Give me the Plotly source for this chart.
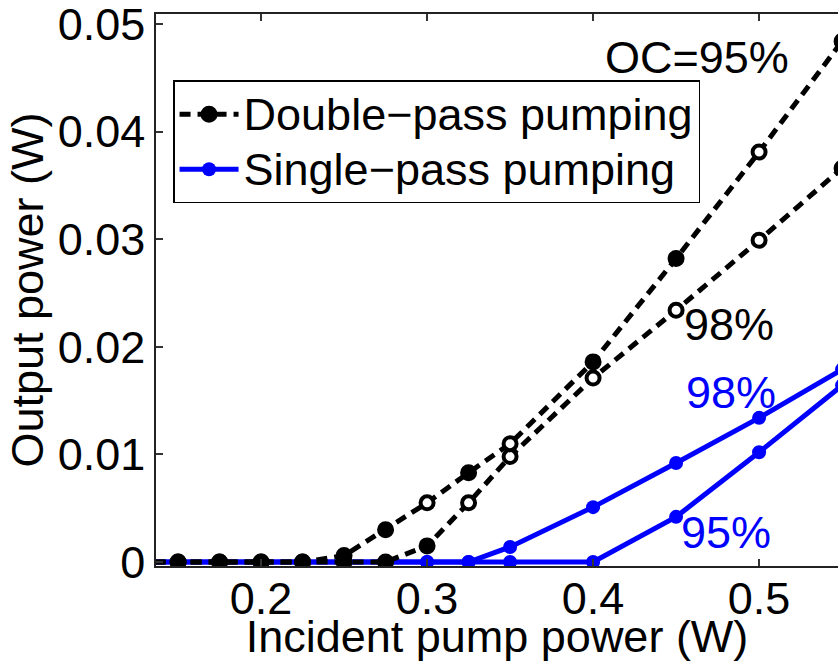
import plotly.graph_objects as go

# Incident pump power (W)
pump_x = [0.125, 0.15, 0.175, 0.2, 0.225, 0.25, 0.275, 0.3, 0.325, 0.35, 0.4, 0.45, 0.5, 0.55]

# Output power (W), double-pass pumping
double_oc95 = [0, 0, 0, 0, 0, 0.0006, 0.0030, 0.0055, 0.0083, 0.0110, 0.0186, 0.0282, 0.0381, 0.0484]
double_oc98 = [0, 0, 0, 0, 0, 0, 0, 0.0015, 0.0055, 0.0098, 0.0171, 0.0234, 0.0299, 0.0366]

# Output power (W), single-pass pumping
single_oc98 = [0, 0, 0, 0, 0, 0, 0, 0, 0, 0.0014, 0.0051, 0.0092, 0.0134, 0.0179]
single_oc95 = [0, 0, 0, 0, 0, 0, 0, 0, 0, 0, 0, 0.0042, 0.0102, 0.0164]

# marker face per point for the double-pass curves (ring vs. solid dot)
face_oc95 = ["black"] * 7 + ["white", "black", "white", "black", "black", "white", "black"]
face_oc98 = ["black"] * 8 + ["white", "white", "white", "white", "white", "black"]

x_ticks = [0.2, 0.3, 0.4, 0.5]
y_ticks = [0, 0.01, 0.02, 0.03, 0.04, 0.05]
y_tick_text = ["0", "0.01", "0.02", "0.03", "0.04", "0.05"]

# curve labels: (text, x, y, colour)
curve_labels = [
    ("OC=95%", 0.4626, 0.0469, "black"),
    ("98%", 0.4819, 0.0221, "black"),
    ("98%", 0.4831, 0.0158, "blue"),
    ("95%", 0.4801, 0.0027, "blue"),
]

FONT = "Liberation Sans, Arial, sans-serif"
FS = 45


def legend_label(s):
    # full-size glyphs with slightly tighter legend row spacing
    return f'<span style="font-size:{FS}px">{s}</span>'


fig = go.Figure()

blue_line = dict(color="blue", width=5)
blue_marker = dict(color="blue", size=14, symbol="circle")

fig.add_trace(go.Scatter(x=pump_x, y=single_oc98, mode="lines+markers",
                         name=legend_label("Single\u2212pass pumping"), legendrank=2,
                         line=blue_line, marker=blue_marker))
fig.add_trace(go.Scatter(x=pump_x, y=single_oc95, mode="lines+markers",
                         showlegend=False, line=blue_line, marker=blue_marker))

black_line = dict(color="black", width=5, dash="11px,7px")

fig.add_trace(go.Scatter(x=pump_x, y=double_oc98, mode="lines+markers",
                         showlegend=False, line=black_line,
                         marker=dict(color=face_oc98, size=13, symbol="circle",
                                     line=dict(color="black", width=4))))
fig.add_trace(go.Scatter(x=pump_x, y=double_oc95, mode="lines+markers",
                         name=legend_label("Double\u2212pass pumping"), legendrank=1,
                         line=black_line,
                         marker=dict(color=face_oc95, size=13, symbol="circle",
                                     line=dict(color="black", width=4))))

for text, lx, ly, col in curve_labels:
    fig.add_annotation(x=lx, y=ly, xref="x", yref="y", text=text, showarrow=False,
                       font=dict(family=FONT, size=FS, color=col),
                       xanchor="center", yanchor="middle")

x_lo = 0.1367
x_hi = x_lo + 682 / 1660
y_lo = -0.00037
y_hi = 0.05093

fig.update_layout(
    width=838, height=662,
    margin=dict(l=156, r=0, t=14, b=96, pad=0),
    paper_bgcolor="white", plot_bgcolor="white",
    font=dict(family=FONT, size=FS, color="black"),
    legend=dict(x=0.025, y=0.88, xanchor="left", yanchor="top",
                bgcolor="white", bordercolor="black", borderwidth=1.5,
                font=dict(family=FONT, size=40, color="black"),
                itemwidth=59, tracegroupgap=0),
    xaxis=dict(range=[x_lo, x_hi], tickvals=x_ticks, ticktext=[str(v) for v in x_ticks],
               ticks="inside", ticklen=7, tickwidth=1.5, tickcolor="#333",
               showline=True, linecolor="#222", linewidth=1.5, mirror="ticks",
               showgrid=False, zeroline=False, ticklabeloverflow="allow",
               ticklabelstandoff=-8,
               tickfont=dict(family=FONT, size=FS, color="black"),
               title=dict(text="Incident pump power (W)",
                          font=dict(family=FONT, size=FS, color="black"), standoff=7),
               automargin=False),
    yaxis=dict(range=[y_lo, y_hi], tickvals=y_ticks, ticktext=y_tick_text,
               ticks="inside", ticklen=7, tickwidth=1.5, tickcolor="#333",
               showline=True, linecolor="#222", linewidth=1.5,
               showgrid=False, zeroline=False, ticklabeloverflow="allow",
               tickfont=dict(family=FONT, size=FS, color="black"),
               title=dict(text="Output power (W)",
                          font=dict(family=FONT, size=FS, color="black"), standoff=0),
               automargin=False),
)

fig.write_html("out.html")
